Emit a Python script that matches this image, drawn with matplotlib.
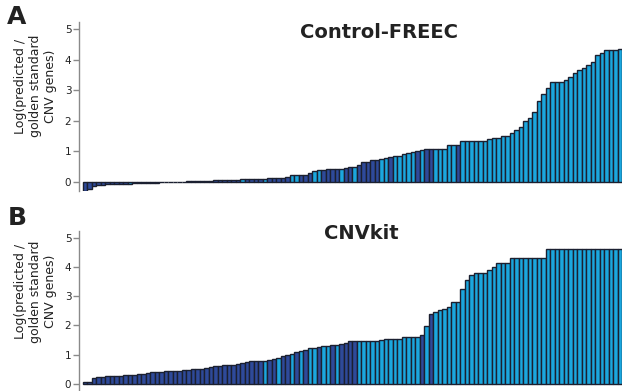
import numpy as np
import matplotlib
matplotlib.use("Agg")
import matplotlib.pyplot as plt

# log ratio of predicted vs golden-standard CNV genes, sorted per sample
freec_vals = [
    -0.29, -0.22, -0.13, -0.10, -0.09, -0.08, -0.08, -0.07, -0.07, -0.06,
    -0.06, -0.05, -0.05, -0.05, -0.04, -0.04, -0.03, -0.02, -0.01,
    0.00, 0.00, 0.01, 0.01, 0.02, 0.02, 0.03, 0.03, 0.04, 0.04,
    0.05, 0.05, 0.06, 0.06, 0.07, 0.07, 0.08, 0.08,
    0.09, 0.09, 0.09, 0.09, 0.13, 0.13, 0.13, 0.13, 0.17, 0.22,
    0.22, 0.22, 0.24, 0.28, 0.36, 0.38, 0.38, 0.41, 0.41, 0.41,
    0.41, 0.44, 0.47, 0.50, 0.54, 0.64, 0.64, 0.73, 0.73, 0.75,
    0.78, 0.80, 0.83, 0.86, 0.90, 0.94, 0.98, 1.02, 1.04, 1.08,
    1.08, 1.09, 1.09, 1.09, 1.20, 1.20, 1.20, 1.32, 1.32, 1.34,
    1.35, 1.35, 1.35, 1.40, 1.45, 1.45, 1.50, 1.51, 1.60, 1.70,
    1.81, 2.00, 2.09, 2.30, 2.66, 2.87, 3.07, 3.27, 3.27, 3.27,
    3.33, 3.44, 3.57, 3.67, 3.72, 3.81, 3.93, 4.15, 4.21, 4.32,
    4.33, 4.33, 4.35,
]
# 1 = light (cyan) sample, 0 = dark blue sample
freec_type = (
    [0] * 10 + [1, 0, 1] + [0] * 22 + [1, 0]
    + [0, 0, 0, 1, 0, 0, 0, 0, 0, 1, 1, 0, 0, 0, 1, 1, 0, 0, 0, 0,
       1, 0, 0, 1, 0, 0, 0, 0, 0, 1, 1, 0, 1, 1, 1, 1, 1, 0, 1, 0]
    + [0] + [1] * 5 + [0] + [1] * 36
)

cnvkit_vals = [
    0.07, 0.07, 0.19, 0.23, 0.25, 0.26, 0.26, 0.27, 0.28, 0.29,
    0.31, 0.32, 0.33, 0.34, 0.37, 0.40, 0.41, 0.42, 0.43, 0.45,
    0.46, 0.46, 0.47, 0.48, 0.50, 0.51, 0.52, 0.54, 0.57, 0.62,
    0.63, 0.64, 0.64, 0.65, 0.68, 0.73, 0.76,
    0.78, 0.80, 0.80, 0.80, 0.83, 0.86, 0.90, 0.95, 0.99, 1.01,
    1.10, 1.14, 1.17, 1.22, 1.22, 1.25, 1.30, 1.30, 1.33, 1.33,
    1.38, 1.40, 1.46, 1.46, 1.46, 1.46, 1.46, 1.46, 1.46, 1.51,
    1.54, 1.54, 1.54, 1.54, 1.59, 1.59, 1.59, 1.59, 1.67, 1.97,
    2.39, 2.47, 2.53, 2.56, 2.62, 2.80, 2.81, 3.25, 3.56, 3.73,
    3.80, 3.80, 3.80, 3.89, 4.00, 4.13, 4.13, 4.13,
    4.31, 4.31, 4.31, 4.31, 4.31, 4.31, 4.31, 4.31,
    4.63, 4.63, 4.63, 4.63, 4.63, 4.63, 4.63, 4.63, 4.63,
    4.63, 4.63, 4.63, 4.63, 4.63, 4.63, 4.63, 4.63,
]
cnvkit_type = (
    [0] * 40
    + [1, 0, 0, 1, 0, 0, 1, 0, 1, 0, 1, 1, 0, 1, 1, 0, 1, 0, 0, 0, 0]
    + [1] * 14 + [0, 1, 0]
    + [1] * 42
)

tools = ["Control-FREEC", "CNVkit"]
panel_letters = ["A", "B"]
yticks = [0, 1, 2, 3, 4, 5]

dark_c = "#2e4a9a"
light_c = "#1ba7de"
edge_c = "#1b2030"

fig = plt.figure(figsize=(6.24, 3.91), dpi=100)
ax_a = fig.add_axes([0.1266, 0.5115, 0.8702, 0.4330])
ax_b = fig.add_axes([0.1266, 0.0, 0.8702, 0.4092])


def draw_panel(ax, vals, kinds, ylim):
    x = np.arange(len(vals))
    cols = [light_c if k else dark_c for k in kinds]
    ax.bar(x, vals, width=1.0, color=cols, edgecolor=edge_c, linewidth=1.0)
    ax.set_xlim(-1.39, len(vals) - 0.5)
    ax.set_ylim(*ylim)
    ax.set_yticks(yticks)
    ax.set_xticks([])
    for s in ["top", "right", "bottom"]:
        ax.spines[s].set_visible(False)
    ax.spines["left"].set_color("#8a8a8a")
    ax.spines["left"].set_linewidth(1.0)
    ax.tick_params(axis="y", length=4.5, width=1.0, color="#8a8a8a",
                   labelsize=7.5, pad=1, labelcolor="#222222")
    ax.set_ylabel("Log(predicted /\ngolden standard\nCNV genes)",
                  fontsize=9, color="#222222", linespacing=1.2)


draw_panel(ax_a, freec_vals, freec_type, (-0.3, 5.24))
draw_panel(ax_b, cnvkit_vals, cnvkit_type, (-0.24, 5.23))
ax_a.yaxis.set_label_coords(-0.04, 0.62)
ax_b.yaxis.set_label_coords(-0.04, 0.62)

fig.text(379 / 624, 1 - 32 / 391, tools[0], fontsize=14, fontweight="bold",
         ha="center", va="center", color="#222222")
fig.text(361 / 624, 1 - 233 / 391, tools[1], fontsize=14, fontweight="bold",
         ha="center", va="center", color="#222222")
fig.text(17 / 624, 1 - 17 / 391, panel_letters[0], fontsize=18,
         fontweight="bold", ha="center", va="center", color="#222222")
fig.text(17 / 624, 1 - 218 / 391, panel_letters[1], fontsize=18,
         fontweight="bold", ha="center", va="center", color="#222222")

fig.savefig("out.png", dpi=100)
